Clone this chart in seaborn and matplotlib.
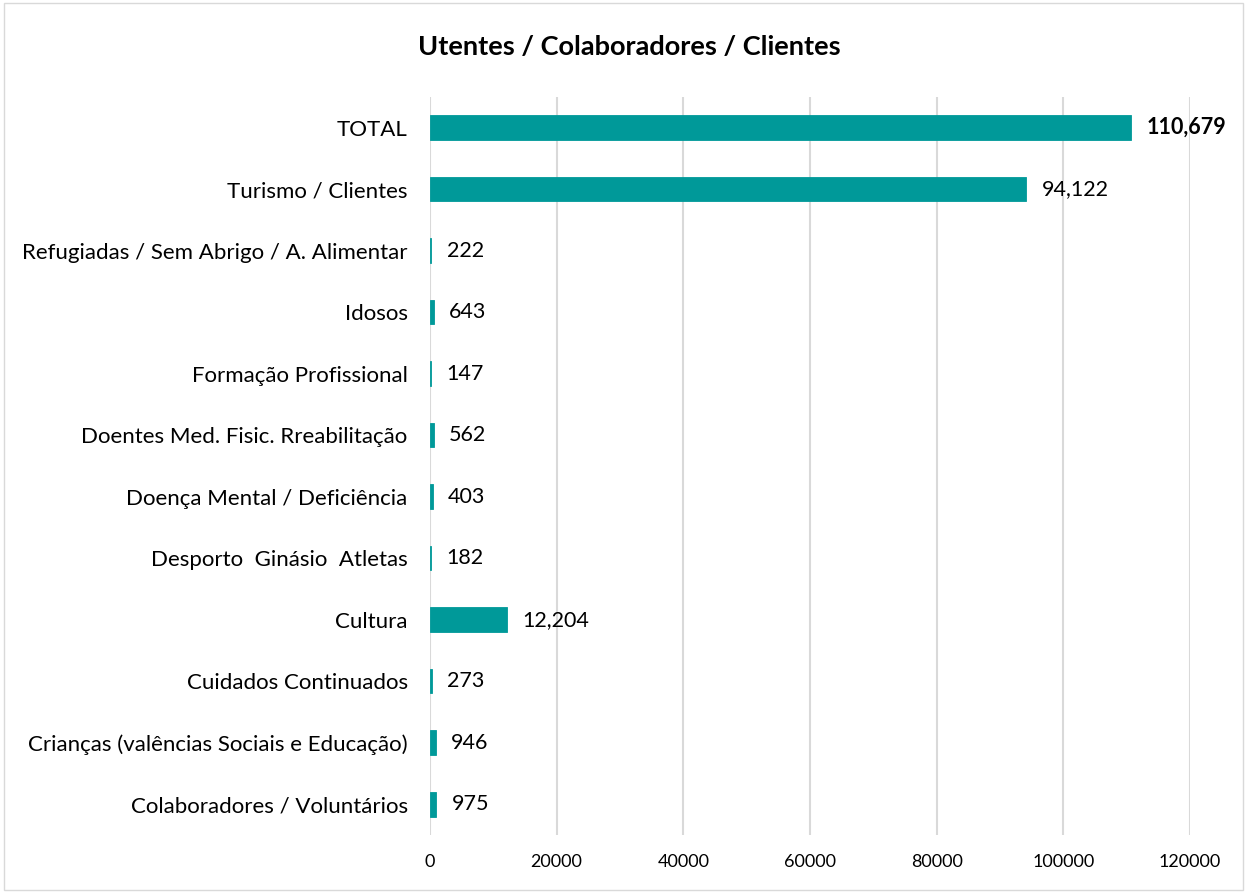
import pandas as pd
import matplotlib.pyplot as plt
import matplotlib.patches as mpatches
import seaborn as sns

# data, top to bottom as shown
categorias = [
    "TOTAL",
    "Turismo / Clientes",
    "Refugiadas / Sem Abrigo / A. Alimentar",
    "Idosos",
    "Formação Profissional",
    "Doentes Med. Fisic. Rreabilitação",
    "Doença Mental / Deficiência",
    "Desporto  Ginásio  Atletas",
    "Cultura",
    "Cuidados Continuados",
    "Crianças (valências Sociais e Educação)",
    "Colaboradores / Voluntários",
]
valores = [110679, 94122, 222, 643, 147, 562, 403, 182, 12204, 273, 946, 975]
x_ticks = [0, 20000, 40000, 60000, 80000, 100000, 120000]

df = pd.DataFrame({"categoria": categorias, "valor": valores})

sns.set_style("white")
plt.rcParams["font.family"] = ["Lato", "DejaVu Sans"]
plt.rcParams["text.color"] = "black"
plt.rcParams["xtick.color"] = "black"
plt.rcParams["ytick.color"] = "black"

fig = plt.figure(figsize=(12.47, 8.93), dpi=100)
ax = fig.add_axes([0.3448, 0.065, 0.6095, 0.8265])

sns.barplot(data=df, x="valor", y="categoria", orient="h", color="#009999",
            width=0.4, saturation=1, edgecolor="#009999", linewidth=0.6,
            ax=ax, zorder=3)

ax.set_xlim(0, 120000)
ax.set_ylim(len(categorias) - 0.5, -0.5)
ax.set_xticks(x_ticks)
ax.set_xticklabels([str(t) for t in x_ticks], fontsize=13)
ax.tick_params(axis="y", labelsize=16, pad=16, length=0)
ax.tick_params(axis="x", pad=14, length=0)
ax.set_xlabel("")
ax.set_ylabel("")
ax.grid(axis="x", color="#D9D9D9", linewidth=1.5, zorder=0)
for s in ax.spines.values():
    s.set_visible(False)

# value labels
for i, v in enumerate(valores):
    ax.annotate(f"{v:,}", xy=(v, i), xytext=(11, 0), textcoords="offset points",
                va="center", ha="left", fontsize=15.5,
                fontweight="bold" if i == 0 else "normal")

fig.text(0.505, 0.947, "Utentes / Colaboradores / Clientes", ha="center",
         va="center", fontsize=19.5, fontweight="bold")

# chart frame
fig.patches.append(mpatches.Rectangle((0.003, 0.003), 0.994, 0.994,
                                      transform=fig.transFigure, fill=False,
                                      edgecolor="#D9D9D9", linewidth=1))

plt.savefig("out.png", dpi=100)
